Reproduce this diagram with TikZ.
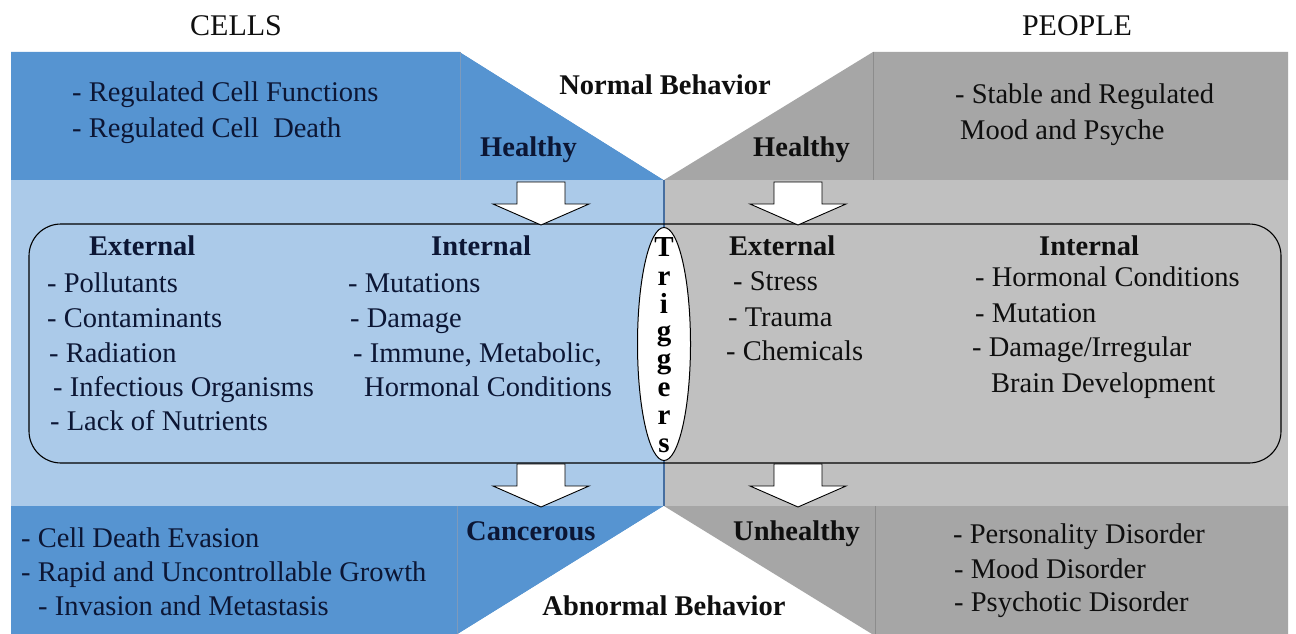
\documentclass[tikz,border=0pt]{standalone}
\usepackage{fontspec}
\setmainfont{Liberation Serif}
\usetikzlibrary{shapes.geometric}
\definecolor{dblue}{RGB}{86,148,209}
\definecolor{lblue}{RGB}{171,202,233}
\definecolor{dgray}{RGB}{166,166,166}
\definecolor{lgray}{RGB}{192,192,192}
\definecolor{navy}{RGB}{12,22,52}
\definecolor{ink}{RGB}{15,15,15}
\definecolor{sepblue}{RGB}{70,110,160}
\definecolor{sepgray}{RGB}{140,140,140}
\begin{document}
\begin{tikzpicture}[x=1pt,y=-1pt,
  txt/.style={anchor=base west, inner sep=0pt, font=\fontsize{28.5}{34}\selectfont},
  btxt/.style={anchor=base west, inner sep=0pt, font=\fontsize{28.5}{34}\selectfont\bfseries},
  ltxt/.style={txt, text=navy},
  lbtxt/.style={btxt, text=navy},
  rtxt/.style={txt, text=ink},
  rbtxt/.style={btxt, text=ink},
  title/.style={anchor=base, inner sep=0pt, font=\fontsize{30}{34}\selectfont, text=ink},
  trig/.style={anchor=base, inner sep=0pt, font=\fontsize{29}{30}\selectfont\bfseries, text=black},
  blockarrow/.style={fill=white, draw=black, line width=0.9pt, line join=miter}]
\useasboundingbox (0,0) rectangle (1296,634);
\fill[white] (0,0) rectangle (1296,634);
% ---- top band
\fill[dblue] (11,52) -- (460,52) -- (664,180) -- (11,180) -- cycle;
\fill[white] (460,52) -- (873,52) -- (664,180) -- cycle;
\fill[dgray] (873,52) -- (1288,52) -- (1288,180) -- (664,180) -- cycle;
\draw[sepblue!70, line width=0.6pt] (460,52) -- (460,180);
\draw[sepgray, line width=0.6pt] (873,52) -- (873,180);
% ---- middle band
\fill[lblue] (11,180) rectangle (664,506);
\fill[lgray] (664,180) rectangle (1288,506);
\draw[sepblue, line width=1.2pt] (664,180) -- (664,506);
% ---- bottom band
\fill[dblue] (11,506) -- (664,506) -- (458,634) -- (11,634) -- cycle;
\fill[white] (664,506) -- (872,634) -- (458,634) -- cycle;
\fill[dgray] (664,506) -- (1288,506) -- (1288,634) -- (872,634) -- cycle;
\draw[sepblue!70, line width=0.6pt] (457,506) -- (457,634);
\draw[sepgray, line width=0.6pt] (875,506) -- (875,634);
% ---- rounded frame and triggers
\draw[black, line width=1.1pt, rounded corners=32] (29,224) rectangle (1281,463);
\node[ellipse, draw=black, line width=1pt, fill=white, minimum width=53, minimum height=233, inner sep=0pt] (trigger) at (664,344) {};
\node[trig] (t1) at (664,256) {T};
\node[trig] (t2) at (664,285) {r};
\node[trig] (t3) at (664,313) {i};
\node[trig] (t4) at (664,340) {g};
\node[trig] (t5) at (664,368) {g};
\node[trig] (t6) at (664,396) {e};
\node[trig] (t7) at (664,424) {r};
\node[trig] (t8) at (664,452) {s};
% ---- block arrows
\newcommand\blockarr[2]{\draw[blockarrow] (#1-24,#2) -- (#1+24,#2) -- (#1+24,#2+22) -- (#1+48,#2+22) -- (#1,#2+43) -- (#1-48,#2+22) -- (#1-24,#2+22) -- cycle;}
\blockarr{541}{182}
\blockarr{798}{182}
\blockarr{541}{464}
\blockarr{798}{464}
% ---- titles
\node[title] (cells) at (236,36) {CELLS};
\node[title] (people) at (1077,36) {PEOPLE};
% ---- top texts
\node[ltxt] (tl1) at (72,102) {- Regulated Cell Functions};
\node[ltxt] (tl2) at (72,137) {- Regulated Cell\ \ Death};
\node[lbtxt] (hl) at (480,156) {Healthy};
\node[rbtxt, anchor=base] (nb) at (665,95) {Normal Behavior};
\node[rbtxt] (hr) at (753,156) {Healthy};
\node[rtxt] (tr1) at (955,103) {- Stable and Regulated};
\node[rtxt] (tr2) at (960,139) {Mood and Psyche};
% ---- middle left
\node[lbtxt] (ext1) at (89,255) {External};
\node[lbtxt] (int1) at (431,255) {Internal};
\node[ltxt] (e1) at (47,292) {- Pollutants};
\node[ltxt] (e2) at (47,327) {- Contaminants};
\node[ltxt] (e3) at (49,362) {- Radiation};
\node[ltxt] (e4) at (53,396) {- Infectious Organisms};
\node[ltxt] (e5) at (50,430) {- Lack of Nutrients};
\node[ltxt] (i1) at (348,292) {- Mutations};
\node[ltxt] (i2) at (350,327) {- Damage};
\node[ltxt] (i3) at (353,362) {- Immune, Metabolic,};
\node[ltxt] (i4) at (364,396) {Hormonal Conditions};
% ---- middle right
\node[rbtxt] (ext2) at (729,255) {External};
\node[rbtxt] (int2) at (1039,255) {Internal};
\node[rtxt] (s1) at (733,290) {- Stress};
\node[rtxt] (s2) at (728,326) {- Trauma};
\node[rtxt] (s3) at (726,360) {- Chemicals};
\node[rtxt] (j1) at (975,286) {- Hormonal Conditions};
\node[rtxt] (j2) at (975,322) {- Mutation};
\node[rtxt] (j3) at (972,356) {- Damage/Irregular};
\node[rtxt] (j4) at (991,392) {Brain Development};
% ---- bottom texts
\node[ltxt] (b1) at (21,547) {- Cell Death Evasion};
\node[ltxt] (b2) at (21,581) {- Rapid and Uncontrollable Growth};
\node[ltxt] (b3) at (38,615) {- Invasion and Metastasis};
\node[lbtxt] (canc) at (466,540) {Cancerous};
\node[rbtxt] (unh) at (733,540) {Unhealthy};
\node[rbtxt, anchor=base] (ab) at (664,615) {Abnormal Behavior};
\node[rtxt] (p1) at (953,543) {- Personality Disorder};
\node[rtxt] (p2) at (954,578) {- Mood Disorder};
\node[rtxt] (p3) at (954,611) {- Psychotic Disorder};
\end{tikzpicture}
\end{document}
